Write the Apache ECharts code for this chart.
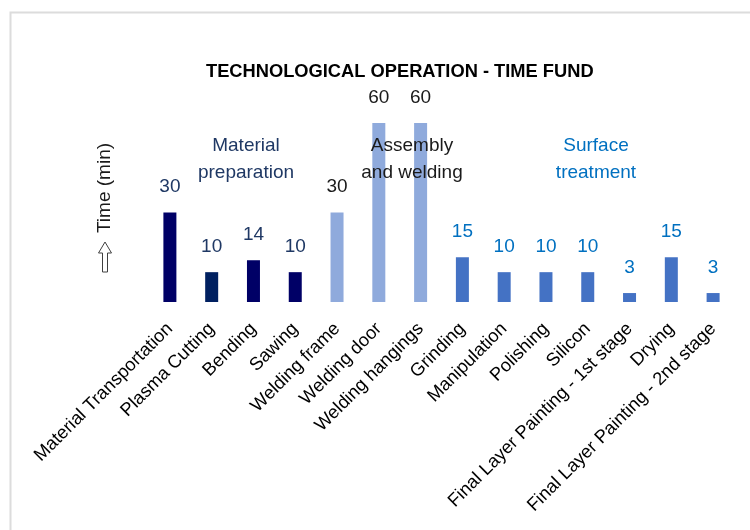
<!DOCTYPE html>
<html lang="en">
<head>
  <meta charset="UTF-8">
  <title>Technological Operation - Time Fund</title>
  <script src="https://cdn.jsdelivr.net/npm/echarts@6/dist/echarts.min.js"></script>
  <style>
    body { margin: 0; background: #fff; }
    #chart { width: 750px; height: 530px; }
  </style>
</head>
<body>
  <div id="chart"></div>
  <script>
    // data
    const operations = [
      'Material Transportation', 'Plasma Cutting', 'Bending', 'Sawing',
      'Welding frame', 'Welding door', 'Welding hangings',
      'Grinding', 'Manipulation', 'Polishing', 'Silicon',
      'Final Layer Painting - 1st stage', 'Drying', 'Final Layer Painting - 2nd stage'
    ];
    const minutes = [30, 10, 14, 10, 30, 60, 60, 15, 10, 10, 10, 3, 15, 3];
    const groupOfOperation = [0, 0, 0, 0, 1, 1, 1, 2, 2, 2, 2, 2, 2, 2];
    const groupNames = ['Material\npreparation', 'Assembly\nand welding', 'Surface\ntreatment'];
    const axisTitle = 'Time (min)';

    // colours per group
    const barColor = ['#000066', '#8faadc', '#4472c4'];
    const labelColor = ['#1f3864', '#1a1a1a', '#0070c0'];
    const barColorOverride = { 'Plasma Cutting': '#002060' };

    const font = 'Arial, "Liberation Sans", sans-serif';
    const chart = echarts.init(document.getElementById('chart'));

    const barData = minutes.map((v, i) => {
      const g = groupOfOperation[i];
      return {
        value: v,
        itemStyle: { color: barColorOverride[operations[i]] || barColor[g] },
        label: { color: labelColor[g] }
      };
    });

    // group captions, placed over the middle of each group
    const groupPos = [[246, 159], [412, 159], [596, 159]];
    const groupText = groupNames.map((name, g) => ({
      type: 'text',
      z: 100,
      x: groupPos[g][0],
      y: groupPos[g][1],
      style: {
        text: name,
        fill: labelColor[g],
        font: '19px ' + font,
        lineHeight: 27,
        textAlign: 'center',
        textVerticalAlign: 'middle'
      }
    }));

    // vertical axis caption with an outlined up arrow below it
    const axisCaption = [
      {
        type: 'text',
        x: 105,
        y: 188,
        rotation: Math.PI / 2,
        style: {
          text: axisTitle,
          fill: '#1a1a1a',
          font: '19px ' + font,
          textAlign: 'center',
          textVerticalAlign: 'middle'
        }
      },
      {
        type: 'polygon',
        shape: {
          points: [[102.5, 272], [107.5, 272], [107.5, 253], [111.5, 253],
                   [105, 242], [98.5, 253], [102.5, 253]]
        },
        style: { fill: '#fff', stroke: '#404040', lineWidth: 1 }
      }
    ];

    const option = {
      animation: false,
      textStyle: { fontFamily: font },
      title: {
        text: 'TECHNOLOGICAL OPERATION - TIME FUND',
        left: 201,
        top: 58,
        textStyle: { fontSize: 18.3, fontWeight: 'bold', color: '#000', fontFamily: font }
      },
      grid: { left: 149, right: 16, top: 123, bottom: 228 },
      xAxis: {
        type: 'category',
        data: operations,
        axisLine: { show: false },
        axisTick: { show: false },
        axisLabel: {
          interval: 0,
          rotate: 45,
          margin: 24,
          fontSize: 18.3,
          color: '#000',
          fontFamily: font
        }
      },
      yAxis: {
        type: 'value',
        min: 0,
        max: 60,
        axisLine: { show: false },
        axisTick: { show: false },
        axisLabel: { show: false },
        splitLine: { show: false }
      },
      series: [{
        type: 'bar',
        barWidth: 13,
        data: barData,
        label: {
          show: true,
          position: 'top',
          distance: 16,
          fontSize: 19,
          fontFamily: font
        }
      }],
      graphic: [
        {
          type: 'rect',
          z: -10,
          shape: { x: 10.5, y: 12.5, width: 800, height: 600 },
          style: { fill: 'none', stroke: '#dcdcdc', lineWidth: 2 }
        }
      ].concat(axisCaption, groupText)
    };

    chart.setOption(option);
  </script>
</body>
</html>
